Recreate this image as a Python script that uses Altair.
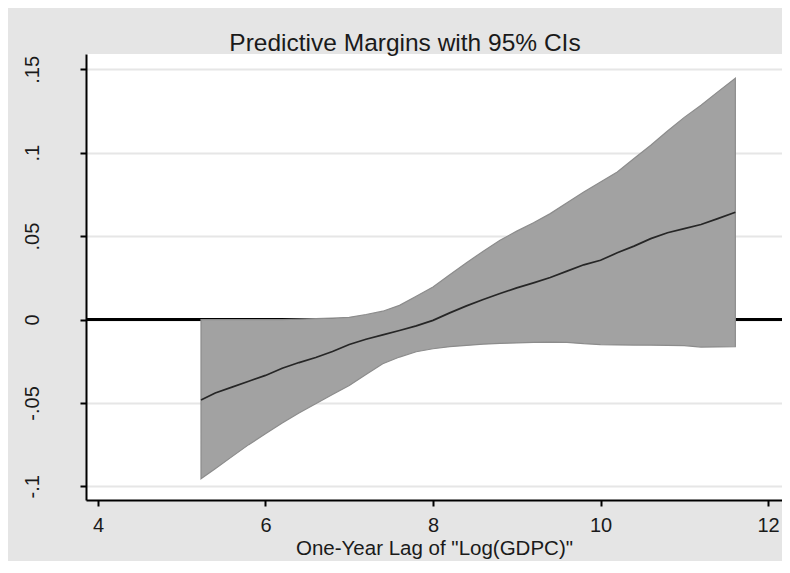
import altair as alt
import pandas as pd

# Data
x_vals = [5.23, 5.4, 5.6, 5.8, 6.0, 6.2, 6.4, 6.6, 6.8, 7.0, 7.2, 7.4, 7.6, 7.8,
          8.0, 8.2, 8.4, 8.6, 8.8, 9.0, 9.2, 9.4, 9.6, 9.8, 10.0, 10.2, 10.4,
          10.6, 10.8, 11.0, 11.2, 11.4, 11.61]
margin = [-0.0482, -0.0440, -0.0405, -0.0370, -0.0335, -0.0292, -0.0258, -0.0228,
          -0.0192, -0.0150, -0.0118, -0.0092, -0.0066, -0.0038, -0.0005, 0.0040,
          0.0082, 0.0120, 0.0156, 0.0190, 0.0220, 0.0252, 0.0290, 0.0328, 0.0355,
          0.0400, 0.0440, 0.0485, 0.0520, 0.0545, 0.0570, 0.0605, 0.0643]
lower = [-0.0955, -0.0895, -0.0822, -0.0750, -0.0685, -0.0620, -0.0560, -0.0505,
         -0.0450, -0.0395, -0.0330, -0.0265, -0.0225, -0.0193, -0.0175, -0.0163,
         -0.0155, -0.0148, -0.0143, -0.0140, -0.0137, -0.0135, -0.0137, -0.0145,
         -0.0150, -0.0152, -0.0153, -0.0154, -0.0155, -0.0156, -0.0165, -0.0164,
         -0.0162]
upper = [0.0, 0.0, 0.0, 0.0, 0.0, 0.0, 0.0002, 0.0005, 0.0008, 0.0013, 0.0030,
         0.0050, 0.0085, 0.0140, 0.0195, 0.0268, 0.0340, 0.0410, 0.0475, 0.0530,
         0.0580, 0.0635, 0.0700, 0.0765, 0.0825, 0.0885, 0.0965, 0.1045, 0.1130,
         0.1212, 0.1285, 0.1365, 0.1447]

x_ticks = [4, 6, 8, 10, 12]
y_ticks = [-0.1, -0.05, 0, 0.05, 0.1, 0.15]
y_tick_labels = ["-.1", "-.05", "0", ".05", ".1", ".15"]

df = pd.DataFrame({"x": x_vals, "margin": margin, "lower": lower, "upper": upper})

FONT = "Liberation Sans"

label_expr = "[" + ",".join("'%s'" % s for s in y_tick_labels) + "][indexof([" + \
    ",".join(str(v) for v in y_ticks) + "], datum.value)]"

x_scale = alt.Scale(domain=[3.857, 12.167], nice=False, zero=False)
y_scale = alt.Scale(domain=[-0.1082, 0.1592], nice=False, zero=False)

x_enc = alt.X("x:Q", scale=x_scale,
              axis=alt.Axis(values=x_ticks, title='One-Year Lag of "Log(GDPC)"',
                            grid=False, format="d",
                            labelBaseline="alphabetic", labelPadding=25,
                            titleBaseline="alphabetic", titleY=54,
                            titleFontSize=20.5, labelFontSize=20))

base = alt.Chart(df)

zero_rule = base.mark_rule(color="black", strokeWidth=2).encode(
    y=alt.datum(0, scale=y_scale)
)

band = base.mark_area(color="#a2a2a2", stroke="#8c8c8c", strokeWidth=1.2,
                      opacity=1).encode(
    x=x_enc,
    y=alt.Y("lower:Q", scale=y_scale,
            axis=alt.Axis(values=y_ticks, labelExpr=label_expr, title=None,
                          grid=True, labelAngle=-90, labelAlign="center",
                          labelBaseline="alphabetic", labelPadding=42,
                          labelFontSize=20)),
    y2="upper:Q",
)

line = base.mark_line(color="#262626", strokeWidth=1.7).encode(
    x=alt.X("x:Q", scale=x_scale),
    y=alt.Y("margin:Q", scale=y_scale),
)

chart = alt.layer(zero_rule, band, line).properties(
    width=696,
    height=446,
    background="#e5e5e5",
    autosize=alt.AutoSizeParams(type="none"),
    padding={"left": 78, "top": 46, "right": 0, "bottom": 61},
    title=alt.TitleParams("Predictive Margins with 95% CIs", fontSize=24.5,
                          font=FONT, fontWeight="normal", color="#1a1a1a",
                          anchor="middle", baseline="alphabetic", offset=3,
                          dy=24, dx=-29),
).configure_view(
    fill="white", stroke=None
).configure_axis(
    labelFont=FONT, titleFont=FONT, labelColor="#1a1a1a", titleColor="#1a1a1a",
    titleFontWeight="normal", domainColor="black", domainWidth=2,
    tickColor="black", tickWidth=2, tickSize=6,
    gridColor="#e6e6e6", gridWidth=2, labelOverlap=False, labelFlush=False,
)

chart.save("out.html", embed_options={"renderer": "svg", "actions": False})
